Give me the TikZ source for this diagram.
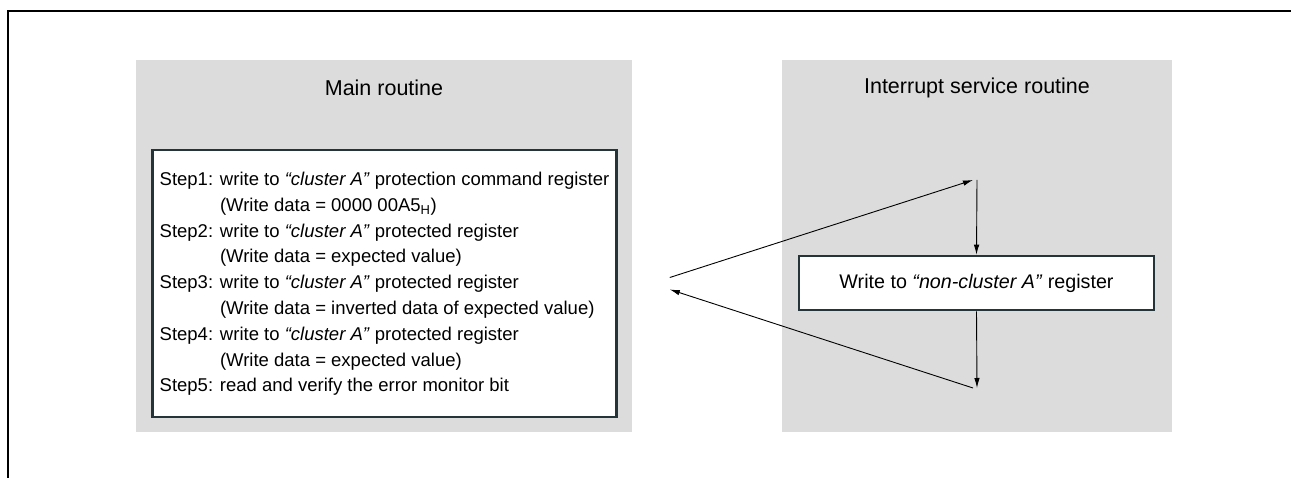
\documentclass[tikz,border=0pt]{standalone}
\usepackage{fontspec}
\setmainfont{Liberation Sans}
\usepackage{xcolor}
\usetikzlibrary{arrows.meta,positioning,calc}

\definecolor{panelgray}{HTML}{DCDCDC}
\definecolor{boxedge}{HTML}{243438}

\begin{document}
\begin{tikzpicture}[
  x=1pt, y=-1pt,
  panel/.style={
    fill=panelgray, draw=none, inner sep=0pt
  },
  ttl/.style={font=\fontsize{21.5}{26}\selectfont, inner sep=0pt},
  stepbox/.style={
    draw=boxedge, line width=2.6pt, fill=white,
    inner sep=0pt, font=\fontsize{18.5}{25.8}\selectfont
  },
  lnk/.style={-{Latex[length=10pt,width=5.5pt]}, line width=0.9pt},
]
\useasboundingbox (0,0) rectangle (1291,478);

%% frame (only top and left edge are shown)
\draw[line width=2pt] (8,478) -- (8,11) -- (1291,11);

%% the two routines
\node[panel, minimum width=496pt, minimum height=372pt] (mainp) at (384,246) {};
\node[panel, minimum width=390pt, minimum height=372pt] (isrp) at (977,246) {};

\node[ttl] (maint) at (384,88) {Main routine};
\node[ttl] (isrt) at (977,88) {Interrupt service routine};

\node[stepbox, minimum width=464pt, minimum height=267pt] (steps) at (384.5,283.5)
  {\begin{tabular}{@{}l@{ }l@{}}
   Step1: & write to \textit{“cluster A”} protection command register\\
          & (Write data = 0000 00A5\textsubscript{H})\\
   Step2: & write to \textit{“cluster A”} protected register\\
          & (Write data = expected value)\\
   Step3: & write to \textit{“cluster A”} protected register\\
          & (Write data = inverted data of expected value)\\
   Step4: & write to \textit{“cluster A”} protected register\\
          & (Write data = expected value)\\
   \multicolumn{2}{@{}l@{}}{Step5: read and verify the error monitor bit}
   \end{tabular}};

\node[stepbox, minimum width=355pt, minimum height=54pt,
      font=\fontsize{19.7}{24}\selectfont] (isrw) at (976.5,283)
  {Write to \textit{“non-cluster A”} register};

%% interrupt entry and return
\coordinate (isrin)  at (977,180);
\coordinate (isrout) at (977,388);
\coordinate (leave) at ($(steps.east)+(52,-6)$);
\coordinate (back)  at ($(steps.east)+(52,6)$);

\draw[lnk] (leave) -- ([xshift=-4pt]isrin);
\draw[lnk] (isrin) -- (isrw.north);
\draw[lnk] (isrw.south) -- (isrout);
\draw[lnk] ([xshift=-4pt]isrout) -- (back);
\end{tikzpicture}
\end{document}
